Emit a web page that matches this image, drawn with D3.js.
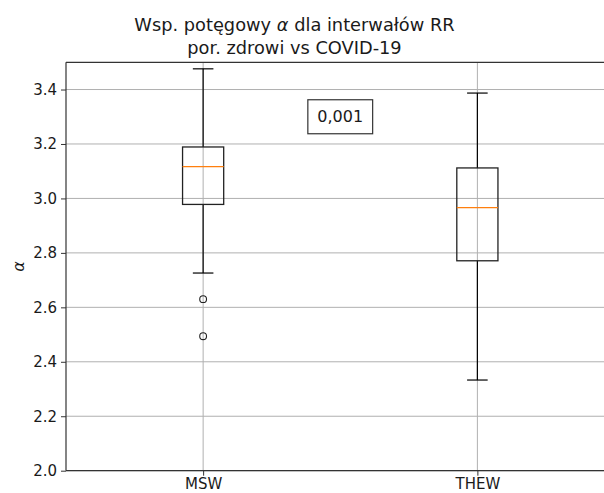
<!DOCTYPE html>
<html>
<head>
<meta charset="utf-8">
<script src="https://cdn.jsdelivr.net/npm/d3@7"></script>
<style>
  html, body { margin: 0; padding: 0; background: #fff; overflow: hidden; width: 604px; height: 493px; }
  svg { display: block; font-family: "DejaVu Sans", sans-serif; }
</style>
</head>
<body>
<svg id="chart" width="604" height="493" viewBox="0 0 604 493"></svg>
<script>
// Box plot statistics for each group
const categories = ["MSW", "THEW"];
const whiskerHigh = [3.476, 3.387];
const q3 = [3.189, 3.112];
const medians = [3.117, 2.966];
const q1 = [2.978, 2.771];
const whiskerLow = [2.726, 2.333];
const outliers = [[2.630, 2.494], []];
const yTicks = [2.0, 2.2, 2.4, 2.6, 2.8, 3.0, 3.2, 3.4];
const pValueLabel = "0,001";
const pValuePos = [1.5, 3.3];

const W = 604, H = 493;
const svg = d3.select("#chart");
const plotLeft = 66, plotRight = 614.5, plotTop = 62.3, plotBottom = 470.7;
// the axes run past the right edge of the figure; draw only the visible part
const visRight = Math.min(plotRight, W);
const tickFont = 15;

const x = d3.scaleLinear().domain([0.5, categories.length + 0.5]).range([plotLeft, plotRight]);
const y = d3.scaleLinear().domain([2.0, 3.5]).range([plotBottom, plotTop]);
const positions = categories.map((_, i) => i + 1);
const boxW = 0.15, capW = 0.075;

// grid lines
const grid = svg.append("g").attr("stroke", "#b0b0b0").attr("stroke-width", 1);
grid.selectAll("line.gy").data(yTicks).join("line").attr("class", "gy")
  .attr("x1", plotLeft).attr("x2", visRight)
  .attr("y1", d => y(d)).attr("y2", d => y(d));
grid.selectAll("line.gx").data(positions).join("line").attr("class", "gx")
  .attr("x1", d => x(d)).attr("x2", d => x(d))
  .attr("y1", plotTop).attr("y2", plotBottom);

// boxes
const boxes = svg.append("g");
categories.forEach((c, i) => {
  const p = positions[i];
  const g = boxes.append("g");
  // whiskers
  g.append("line").attr("x1", x(p)).attr("x2", x(p))
    .attr("y1", y(q3[i])).attr("y2", y(whiskerHigh[i]))
    .attr("stroke", "#000").attr("stroke-width", 1.2);
  g.append("line").attr("x1", x(p)).attr("x2", x(p))
    .attr("y1", y(q1[i])).attr("y2", y(whiskerLow[i]))
    .attr("stroke", "#000").attr("stroke-width", 1.2);
  // caps
  [whiskerHigh[i], whiskerLow[i]].forEach(v => {
    g.append("line").attr("x1", x(p - capW / 2)).attr("x2", x(p + capW / 2))
      .attr("y1", y(v)).attr("y2", y(v))
      .attr("stroke", "#000").attr("stroke-width", 1.2);
  });
  // box
  g.append("rect")
    .attr("x", x(p - boxW / 2)).attr("y", y(q3[i]))
    .attr("width", x(p + boxW / 2) - x(p - boxW / 2))
    .attr("height", y(q1[i]) - y(q3[i]))
    .attr("fill", "none").attr("stroke", "#222").attr("stroke-width", 1.3);
  // median
  g.append("line").attr("x1", x(p - boxW / 2)).attr("x2", x(p + boxW / 2))
    .attr("y1", y(medians[i])).attr("y2", y(medians[i]))
    .attr("stroke", "#ff7f0e").attr("stroke-width", 1.2);
  // fliers
  g.selectAll("circle").data(outliers[i]).join("circle")
    .attr("cx", x(p)).attr("cy", d => y(d)).attr("r", 3.4)
    .attr("fill", "none").attr("stroke", "#222").attr("stroke-width", 1.1);
});

// axes
const yAxis = svg.append("g").attr("transform", `translate(${plotLeft},0)`)
  .call(d3.axisLeft(y).tickValues(yTicks).tickFormat(d3.format(".1f")).tickSizeOuter(0).tickSize(5).tickPadding(4));
const xAxis = svg.append("g").attr("transform", `translate(0,${plotBottom})`)
  .call(d3.axisBottom(x).tickValues(positions).tickFormat((d, i) => categories[i]).tickSizeOuter(0).tickSize(5).tickPadding(3));
[yAxis, xAxis].forEach(a => {
  a.select(".domain").remove();
  a.selectAll("text").attr("font-size", tickFont).attr("fill", "#1a1a1a").attr("font-family", "DejaVu Sans");
  a.selectAll("line").attr("stroke", "#333");
});

// spines (left, top, bottom)
const spines = svg.append("g").attr("stroke", "#333").attr("stroke-width", 1.2);
spines.append("line").attr("x1", plotLeft).attr("x2", plotLeft).attr("y1", plotTop).attr("y2", plotBottom);
spines.append("line").attr("x1", plotLeft).attr("x2", visRight).attr("y1", plotTop).attr("y2", plotTop);
spines.append("line").attr("x1", plotLeft).attr("x2", visRight).attr("y1", plotBottom).attr("y2", plotBottom);

// p-value annotation
const ann = svg.append("g");
const annText = ann.append("text")
  .attr("x", x(pValuePos[0])).attr("y", y(pValuePos[1]))
  .attr("text-anchor", "middle").attr("dominant-baseline", "central")
  .attr("font-size", 16).attr("fill", "#1a1a1a").text(pValueLabel);
const bb = annText.node().getBBox();
ann.insert("rect", "text")
  .attr("x", bb.x - 9.5).attr("y", bb.y - 7.5)
  .attr("width", bb.width + 19).attr("height", bb.height + 15)
  .attr("fill", "#fff").attr("stroke", "#333").attr("stroke-width", 1.2);

// y label
svg.append("text")
  .attr("transform", `translate(24,${(plotTop + plotBottom) / 2}) rotate(-90)`)
  .attr("text-anchor", "middle").attr("font-size", 16)
  .attr("fill", "#1a1a1a")
  .attr("font-style", "italic").text("α");

// title
const title = svg.append("text").attr("text-anchor", "middle").attr("font-size", 17.8).attr("fill", "#1a1a1a");
title.append("tspan").attr("x", 294.5).attr("y", 31)
  .text("Wsp. potęgowy ")
  .append("tspan").attr("font-style", "italic").text("α");
title.append("tspan").text(" dla interwałów RR");
title.append("tspan").attr("x", 294.5).attr("y", 54).text("por. zdrowi vs COVID-19");
</script>
</body>
</html>
